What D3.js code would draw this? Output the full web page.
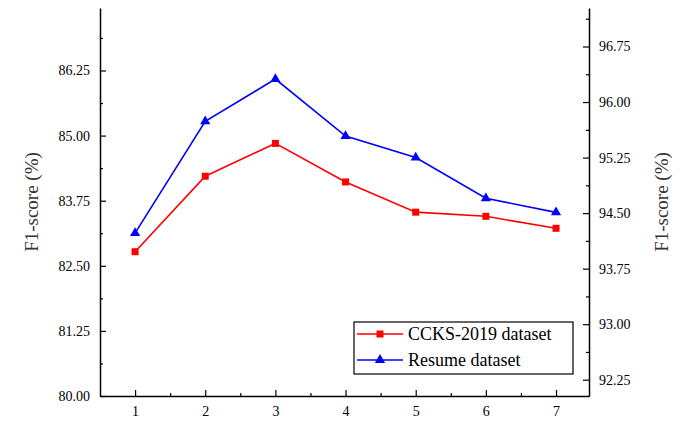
<!DOCTYPE html>
<html><head><meta charset="utf-8">
<script src="https://cdn.jsdelivr.net/npm/d3@7"></script>
<style>body{margin:0;background:#fff}text{font-family:"Liberation Serif","Times New Roman",serif !important}</style>
</head><body><div id="chart"></div>
<script>
const steps = [1, 2, 3, 4, 5, 6, 7];
const ccks = [82.77, 84.22, 84.85, 84.11, 83.53, 83.45, 83.22];
const resume = [94.23, 95.74, 96.31, 95.54, 95.25, 94.70, 94.51];
const leftTicks = [80, 81.25, 82.5, 83.75, 85, 86.25];
const rightTicks = [92.25, 93, 93.75, 94.5, 95.25, 96, 96.75];

const W = 684, H = 439, L = 100, R = 589, T = 8, B = 396;
const svg = d3.select("#chart").append("svg").attr("width", W).attr("height", H);

const x = d3.scaleLinear().domain([0.5, 7.47]).range([L, R]);
const yL = d3.scaleLinear().domain([80, 87.45]).range([B, T]);
const yR = d3.scaleLinear().domain([92.03, 97.27]).range([B, T]);

function tickAxis(axis) {
  return g => {
    g.call(axis);
    g.attr("font-family", null);
    g.selectAll("text").style("font-size", "14px").attr("fill", "#000");
    g.select(".domain").attr("stroke", "#000").attr("stroke-width", 1.5);
  };
}
// minor ticks
const xMinor = d3.range(1.5, 7.5, 1);
const lMinor = leftTicks.map(d => d + 0.625).filter(d => d < 87.45);
const rMinor = rightTicks.map(d => d - 0.375).concat([97.125]).filter(d => d > 92.03 && d < 97.27);

svg.append("g").attr("transform", `translate(0,${B})`)
  .call(tickAxis(d3.axisBottom(x).tickValues(steps).tickFormat(d3.format("d")).tickSize(-6).tickPadding(10).tickSizeOuter(0)));
svg.append("g").attr("transform", `translate(0,${B})`)
  .call(d3.axisBottom(x).tickValues(xMinor).tickSize(-3).tickFormat("").tickSizeOuter(0))
  .select(".domain").remove();

svg.append("g").attr("transform", `translate(${L},0)`)
  .call(tickAxis(d3.axisLeft(yL).tickValues(leftTicks).tickFormat(d3.format(".2f")).tickSize(-6).tickPadding(10).tickSizeOuter(0)));
svg.append("g").attr("transform", `translate(${L},0)`)
  .call(d3.axisLeft(yL).tickValues(lMinor).tickSize(-3).tickFormat("").tickSizeOuter(0))
  .select(".domain").remove();

svg.append("g").attr("transform", `translate(${R},0)`)
  .call(tickAxis(d3.axisRight(yR).tickValues(rightTicks).tickFormat(d3.format(".2f")).tickSize(-6).tickPadding(10).tickSizeOuter(0)));
svg.append("g").attr("transform", `translate(${R},0)`)
  .call(d3.axisRight(yR).tickValues(rMinor).tickSize(-3).tickFormat("").tickSizeOuter(0))
  .select(".domain").remove();

svg.selectAll(".tick line").attr("stroke", "#000").attr("stroke-width", 1.2);

svg.append("text").attr("transform", `translate(38,${(T + B) / 2}) rotate(-90)`)
  .attr("text-anchor", "middle").style("font-size", "19px").attr("fill", "#333").text("F1-score (%)");
svg.append("text").attr("transform", `translate(668,${(T + B) / 2}) rotate(-90)`)
  .attr("text-anchor", "middle").style("font-size", "19px").attr("fill", "#333").text("F1-score (%)");

const lineL = d3.line().x((d, i) => x(steps[i])).y(d => yL(d));
const lineR = d3.line().x((d, i) => x(steps[i])).y(d => yR(d));
svg.append("path").datum(resume).attr("d", lineR).attr("fill", "none").attr("stroke", "#0000ff").attr("stroke-width", 1.6);
svg.append("path").datum(ccks).attr("d", lineL).attr("fill", "none").attr("stroke", "#ff0000").attr("stroke-width", 1.6);

const tri = d3.symbol().type(d3.symbolTriangle).size(45);
svg.selectAll(".tri").data(resume).join("path").attr("class", "tri")
  .attr("d", tri).attr("fill", "#0000ff")
  .attr("transform", (d, i) => `translate(${x(steps[i])},${yR(d)})`);
svg.selectAll(".sq").data(ccks).join("rect").attr("class", "sq")
  .attr("x", (d, i) => x(steps[i]) - 3.5).attr("y", d => yL(d) - 3.5)
  .attr("width", 7).attr("height", 7).attr("fill", "#ff0000");

// legend
const lg = svg.append("g").attr("transform", "translate(354,322)");
lg.append("rect").attr("width", 219).attr("height", 52).attr("fill", "#fff").attr("stroke", "#000").attr("stroke-width", 1.2);
const items = [["CCKS-2019 dataset", "#ff0000", "sq"], ["Resume dataset", "#0000ff", "tri"]];
items.forEach((it, i) => {
  const cy = 12 + i * 26;
  lg.append("line").attr("x1", 3).attr("x2", 49).attr("y1", cy).attr("y2", cy).attr("stroke", it[1]).attr("stroke-width", 1.6);
  if (it[2] === "sq") lg.append("rect").attr("x", 22.5).attr("y", cy - 3.5).attr("width", 7).attr("height", 7).attr("fill", it[1]);
  else lg.append("path").attr("d", tri).attr("fill", it[1]).attr("transform", `translate(26,${cy})`);
  lg.append("text").attr("x", 54).attr("y", cy + 6).style("font-size", "18px").attr("fill", "#000").text(it[0]);
});
</script></body></html>
